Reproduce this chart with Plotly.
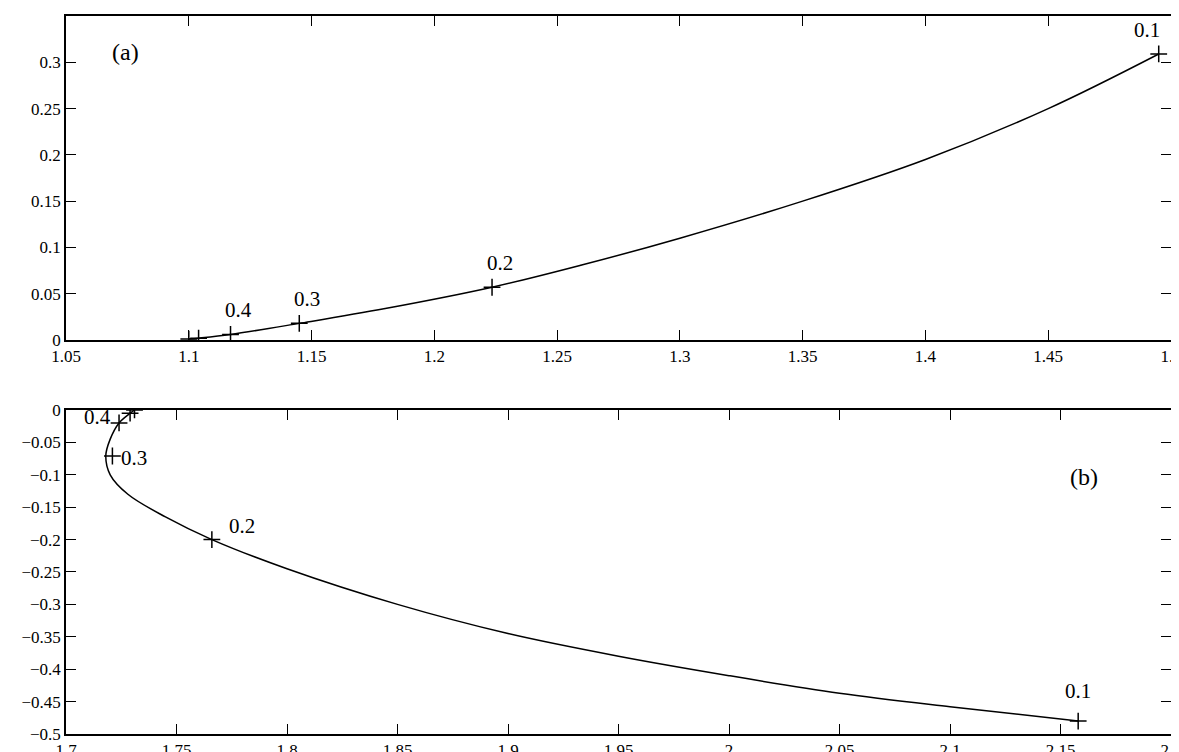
import plotly.graph_objects as go
from plotly.subplots import make_subplots

# (a) curve and marked points
a_curve_x = [1.100, 1.104, 1.117, 1.145, 1.18, 1.2235, 1.26, 1.30, 1.35, 1.40, 1.45, 1.495]
a_curve_y = [0.001, 0.002, 0.006, 0.018, 0.034, 0.057, 0.081, 0.110, 0.150, 0.195, 0.250, 0.309]
a_pts_x = [1.100, 1.104, 1.117, 1.145, 1.2235, 1.495]
a_pts_y = [0.001, 0.002, 0.006, 0.018, 0.057, 0.309]
a_labels = ["", "", "0.4", "0.3", "0.2", "0.1"]

# (b) curve and marked points
b_curve_x = [1.731, 1.729, 1.724, 1.720, 1.718, 1.720, 1.728, 1.745, 1.766, 1.80, 1.85, 1.90, 1.95, 2.00, 2.05, 2.10, 2.158]
b_curve_y = [0.0, -0.005, -0.02, -0.045, -0.071, -0.10, -0.13, -0.165, -0.20, -0.245, -0.30, -0.345, -0.38, -0.41, -0.437, -0.458, -0.48]
b_pts_x = [1.731, 1.729, 1.724, 1.721, 1.766, 2.158]
b_pts_y = [0.0, -0.005, -0.02, -0.071, -0.20, -0.48]
b_labels = ["", "", "0.4", "0.3", "0.2", "0.1"]

fig = make_subplots(rows=2, cols=1, vertical_spacing=0.0974)

line = dict(color="black", width=1.5)
mk = dict(symbol="cross-thin", size=12, line=dict(color="black", width=1.5))
fig.add_trace(go.Scatter(x=a_curve_x, y=a_curve_y, mode="lines", line=line,
                         line_shape="spline"), row=1, col=1)
fig.add_trace(go.Scatter(x=a_pts_x, y=a_pts_y, mode="markers", marker=mk), row=1, col=1)
fig.add_trace(go.Scatter(x=b_curve_x, y=b_curve_y, mode="lines", line=line,
                         line_shape="spline"), row=2, col=1)
fig.add_trace(go.Scatter(x=b_pts_x, y=b_pts_y, mode="markers", marker=mk), row=2, col=1)

font = dict(family="Liberation Serif", size=21, color="black")
for x, y, t in zip(a_pts_x, a_pts_y, a_labels):
    if t:
        fig.add_annotation(x=x, y=y, text=t, showarrow=False, xref="x", yref="y",
                           xshift=-12 if t == "0.1" else 8, yshift=24, font=font)
offs = {"0.4": (-22, 6), "0.3": (22, -2), "0.2": (30, 14), "0.1": (0, 30)}
for x, y, t in zip(b_pts_x, b_pts_y, b_labels):
    if t:
        fig.add_annotation(x=x, y=y, text=t, showarrow=False, xref="x2", yref="y2",
                           xshift=offs[t][0], yshift=offs[t][1], font=font)

fig.add_annotation(x=0.04, y=0.935, xref="x domain", yref="y domain", text="(a)",
                   showarrow=False, font=dict(family="Liberation Serif", size=24, color="black"))
fig.add_annotation(x=0.936, y=0.84, xref="x2 domain", yref="y2 domain", text="(b)",
                   showarrow=False, font=dict(family="Liberation Serif", size=24, color="black"))

ax = dict(showline=True, mirror="ticks", linecolor="black", linewidth=1.5, ticks="inside",
          ticklen=10, tickcolor="black", showgrid=False, zeroline=False, automargin=False,
          tickfont=dict(family="Liberation Serif", size=17, color="black"))
fig.update_xaxes(**ax)
fig.update_yaxes(**ax)
fig.update_xaxes(range=[1.05, 1.5], dtick=0.05, row=1, col=1)
fig.update_yaxes(range=[0, 0.35], dtick=0.05, row=1, col=1)
fig.update_xaxes(range=[1.7, 2.2], dtick=0.05, row=2, col=1)
fig.update_yaxes(range=[-0.5, 0], dtick=0.05, row=2, col=1)

fig.update_layout(width=1179, height=752, showlegend=False, plot_bgcolor="white",
                  paper_bgcolor="white", margin=dict(l=58, r=16, t=8, b=26),
                  font=dict(family="Liberation Serif"))
fig.write_html("out.html")
